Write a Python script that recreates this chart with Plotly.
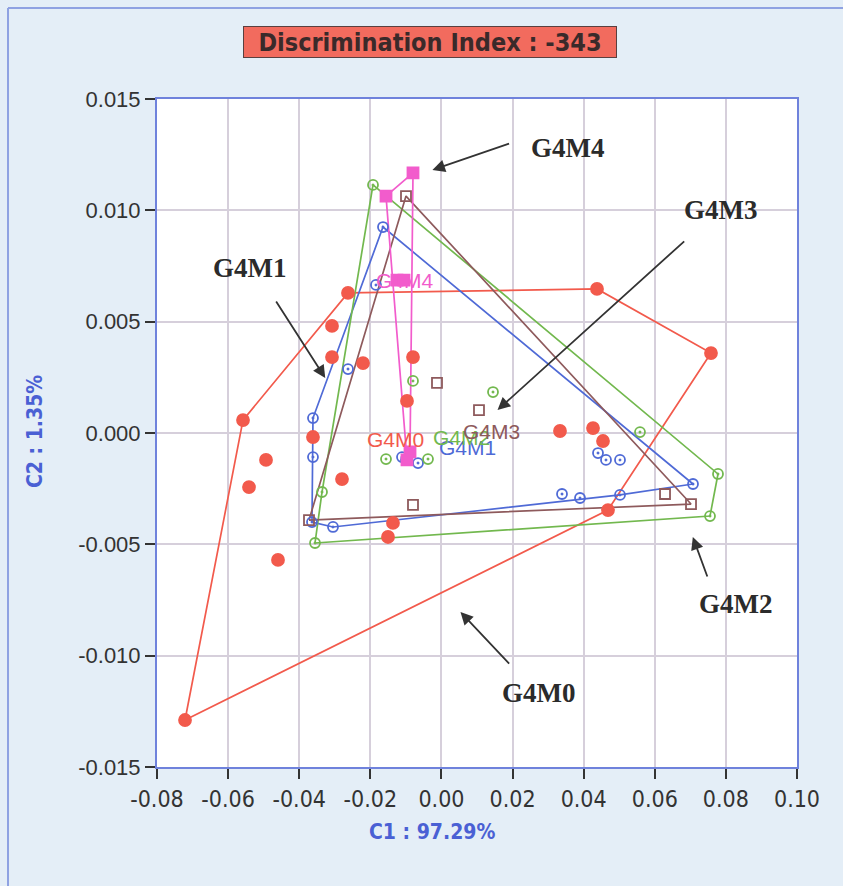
import plotly.graph_objects as go

# ---------------- data ----------------
groups = ["G4M0", "G4M1", "G4M2", "G4M3", "G4M4"]

g4m0_x = [-0.07212, -0.05581, -0.04934, -0.05413, -0.04597, -0.03078, -0.03078, -0.02628,
          -0.02206, -0.03613, -0.02797, -0.01363, -0.01503, -0.00800, -0.00969, 0.04375,
          0.07581, 0.03334, 0.04263, 0.04544, 0.04684]
g4m0_y = [-0.01289, 0.00058, -0.00121, -0.00243, -0.00570, 0.00481, 0.00341, 0.00629,
          0.00314, -0.00018, -0.00207, -0.00404, -0.00467, 0.00341, 0.00144, 0.00647,
          0.00359, 0.00009, 0.00022, -0.00036, -0.00346]

g4m1_x = [-0.01644, -0.01841, -0.02628, -0.03613, -0.03613, -0.03641, -0.03050, -0.01109,
          -0.00997, -0.00659, 0.04403, 0.04628, 0.05022, 0.03391, 0.03897, 0.05022, 0.07075]
g4m1_y = [0.00925, 0.00665, 0.00287, 0.00067, -0.00108, -0.00400, -0.00422, -0.00108,
          -0.00121, -0.00135, -0.00090, -0.00121, -0.00121, -0.00274, -0.00292, -0.00278, -0.00229]

g4m2_x = [-0.01925, -0.00800, 0.01450, -0.01559, -0.00378, -0.03359, -0.03556, 0.05584,
          0.07778, 0.07553]
g4m2_y = [0.01114, 0.00234, 0.00184, -0.00117, -0.00117, -0.00265, -0.00494, 0.00004,
          -0.00184, -0.00373]

g4m3_x = [-0.00997, -0.00125, 0.01056, -0.00800, -0.03725, 0.06288, 0.07019]
g4m3_y = [0.01064, 0.00225, 0.00103, -0.00323, -0.00391, -0.00274, -0.00319]

g4m4_x = [-0.01559, -0.00800, -0.01250, -0.01053, -0.00969, -0.00884]
g4m4_y = [0.01064, 0.01168, 0.00687, 0.00687, -0.00121, -0.00085]

# centroid labels
label_x = [-0.01306, 0.00720, 0.00550, 0.01400, -0.01025]
label_y = [-0.00031, -0.00063, -0.00018, 0.00009, 0.00687]

# callout annotations (text position, arrow tail, arrow head)
callout_tx = [0.0273, -0.0538, 0.0828, 0.0786, 0.03549]
callout_ty = [-0.01168, 0.00741, -0.00768, 0.01001, 0.0128]
arrow_tail_x = [0.01944, -0.04676, 0.07493, 0.0687, 0.01944]
arrow_tail_y = [-0.01042, 0.00597, -0.00651, 0.00867, 0.01302]
arrow_head_x = [0.00535, -0.03268, 0.0707, 0.01577, -0.00254]
arrow_head_y = [-0.00804, 0.00247, -0.00467, 0.00103, 0.01181]

x_ticks = [-0.08, -0.06, -0.04, -0.02, 0.00, 0.02, 0.04, 0.06, 0.08, 0.10]
x_tick_text = ["-0.08", "-0.06", "-0.04", "-0.02", "0.00", "0.02", "0.04", "0.06", "0.08", "0.10"]
y_ticks = [0.015, 0.010, 0.005, 0.000, -0.005, -0.010, -0.015]
y_tick_text = ["0.015", "0.010", "0.005", "0.000", "-0.005", "-0.010", "-0.015"]

title_text = "Discrimination Index : -343"
x_title = "C1 : 97.29%"
y_title = "C2 : 1.35%"

# ---------------- styles ----------------
colors = ["#f25a4c", "#4f6ad6", "#72b84e", "#8e5a5c", "#f25ccc"]
symbols = ["circle", "circle-open-dot", "circle-open-dot", "square-open", "square"]
sizes = [12, 10, 10, 10, 11]

all_x = [g4m0_x, g4m1_x, g4m2_x, g4m3_x, g4m4_x]
all_y = [g4m0_y, g4m1_y, g4m2_y, g4m3_y, g4m4_y]


def hull(xs, ys):
    pts = sorted(set(zip(xs, ys)))
    if len(pts) < 3:
        return pts

    def cross(o, a, b):
        return (a[0] - o[0]) * (b[1] - o[1]) - (a[1] - o[1]) * (b[0] - o[0])

    lower, upper = [], []
    for p in pts:
        while len(lower) >= 2 and cross(lower[-2], lower[-1], p) <= 0:
            lower.pop()
        lower.append(p)
    for p in reversed(pts):
        while len(upper) >= 2 and cross(upper[-2], upper[-1], p) <= 0:
            upper.pop()
        upper.append(p)
    return lower[:-1] + upper[:-1]


fig = go.Figure()

for i, g in enumerate(groups):
    h = hull(all_x[i], all_y[i])
    h = h + [h[0]]
    fig.add_trace(go.Scatter(
        x=[p[0] for p in h], y=[p[1] for p in h], mode="lines",
        line=dict(color=colors[i], width=1.7), hoverinfo="skip", showlegend=False))

for i, g in enumerate(groups):
    fig.add_trace(go.Scatter(
        x=all_x[i], y=all_y[i], mode="markers", name=g,
        marker=dict(color=colors[i], symbol=symbols[i], size=sizes[i],
                    line=dict(color=colors[i], width=1.8)),
        showlegend=False))

annotations = []
for i, g in enumerate(groups):
    annotations.append(dict(x=label_x[i], y=label_y[i], xref="x", yref="y", text=g,
                            showarrow=False,
                            font=dict(family="Liberation Sans", size=21, color=colors[i])))

for i, g in enumerate(groups):
    annotations.append(dict(x=callout_tx[i], y=callout_ty[i], xref="x", yref="y",
                            text="<b>%s</b>" % g, showarrow=False,
                            font=dict(family="Liberation Serif", size=27, color="#2b2b2b")))
    annotations.append(dict(x=arrow_head_x[i], y=arrow_head_y[i], xref="x", yref="y",
                            ax=arrow_tail_x[i], ay=arrow_tail_y[i], axref="x", ayref="y",
                            text="", showarrow=True, arrowhead=2, arrowsize=1.4,
                            arrowwidth=1.8, arrowcolor="#333333"))

annotations.append(dict(x=0.4266, y=1.0853, xref="paper", yref="paper",
                        xanchor="center", yanchor="middle",
                        text="<b>%s</b>" % title_text, showarrow=False,
                        bgcolor="#f26b5e", bordercolor="#5a4040", borderwidth=1,
                        width=370, height=28,
                        font=dict(family="DejaVu Sans Condensed, DejaVu Sans", size=25, color="#3a2a2a")))
annotations.append(dict(x=0.4297, y=-0.0973, xref="paper", yref="paper",
                        xanchor="center", yanchor="middle",
                        text="<b>%s</b>" % x_title, showarrow=False,
                        font=dict(family="DejaVu Sans Condensed, DejaVu Sans", size=21, color="#4a60d4")))
annotations.append(dict(x=-0.1906, y=0.5015, xref="paper", yref="paper",
                        xanchor="center", yanchor="middle",
                        text="<b>%s</b>" % y_title, showarrow=False, textangle=-90,
                        font=dict(family="DejaVu Sans Condensed, DejaVu Sans", size=21, color="#4a60d4")))

shapes = [
    dict(type="line", xref="paper", yref="paper", x0=-0.2328, y0=1.1362, x1=1.1, y1=1.1362,
         line=dict(color="#8fa2e2", width=2)),
    dict(type="line", xref="paper", yref="paper", x0=-0.2328, y0=1.1362, x1=-0.2328, y1=-0.2,
         line=dict(color="#8fa2e2", width=2)),
]

axis_common = dict(showgrid=True, gridcolor="#d6cfdb", gridwidth=2, zeroline=False,
                   showline=True, linecolor="#6f82dc", linewidth=2, mirror=True,
                   ticks="outside", ticklen=10, tickwidth=2, tickcolor="#333333")

fig.update_layout(
    width=843, height=886,
    margin=dict(l=157, r=46, t=99, b=119),
    paper_bgcolor="#e4eef7", plot_bgcolor="#ffffff",
    xaxis=dict(range=[-0.08, 0.10], tickvals=x_ticks, ticktext=x_tick_text,
               tickfont=dict(family="Liberation Sans Narrow, DejaVu Sans Condensed, Liberation Sans",
                             size=23, color="#333333"), **axis_common),
    yaxis=dict(range=[-0.015, 0.015], tickvals=y_ticks, ticktext=y_tick_text,
               tickfont=dict(family="Liberation Sans", size=22, color="#333333"), **axis_common),
    annotations=annotations, shapes=shapes,
)

fig.write_html("out.html", config={"displayModeBar": False},
               post_script="document.body.style.margin='0';document.body.style.background='#e4eef7';")
